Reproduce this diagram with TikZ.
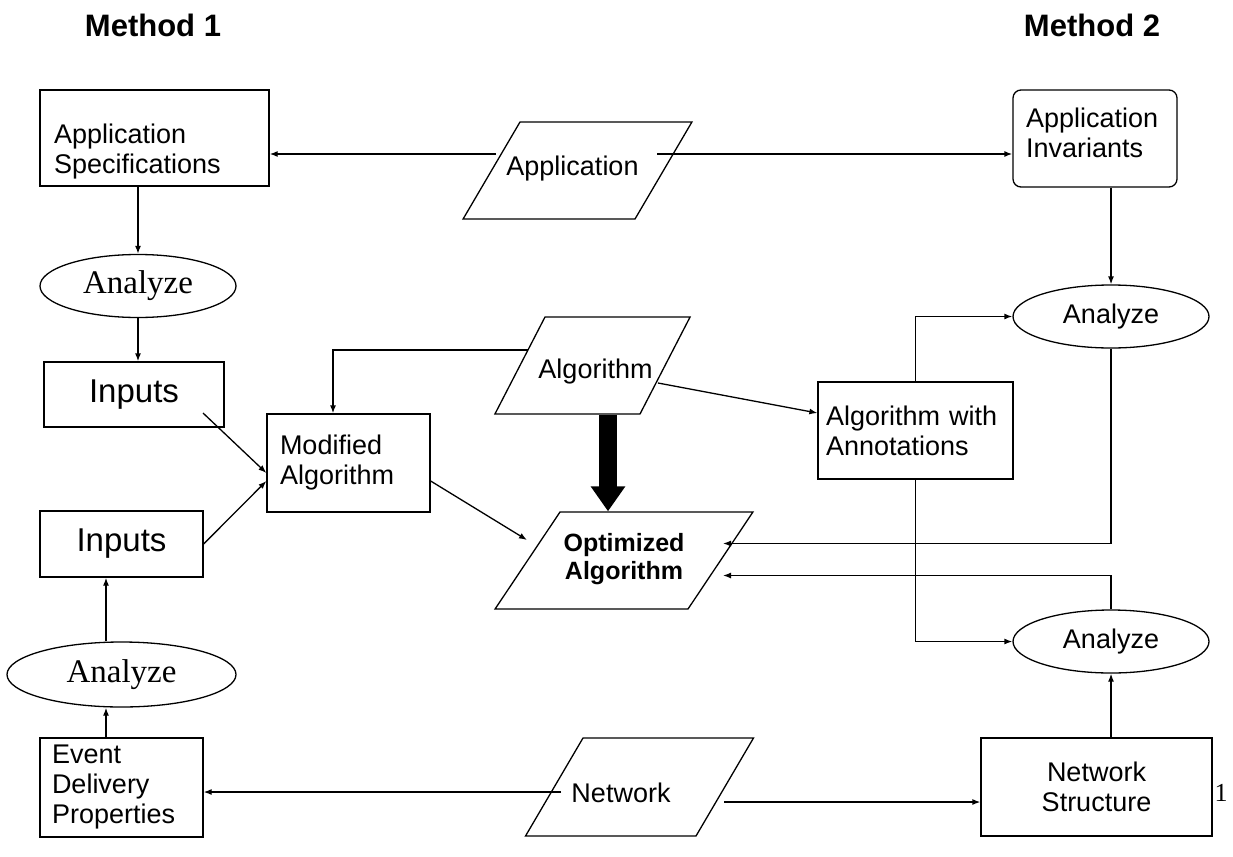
\documentclass[tikz,border=0pt]{standalone}
\usepackage{fontspec}
\setmainfont{Liberation Sans}
\newfontfamily\timesfont{Liberation Serif}
\usetikzlibrary{positioning,shapes.geometric,arrows.meta}

\begin{document}
\begin{tikzpicture}
    [x=1pt, y=-1pt, line width=1.3pt,
      every node/.style={font=\fontsize{27}{30}\selectfont, inner sep=2pt},
      box/.style={draw, rectangle, align=left, inner xsep=13pt},
      para/.style={draw, trapezium, trapezium left angle=60,
        trapezium right angle=120},
      ana/.style={draw, ellipse, minimum width=196pt, minimum height=63pt},
      serana/.style={ana, font=\timesfont\fontsize{33}{36}\selectfont},
      inbox/.style={draw, rectangle, font=\fontsize{33}{36}\selectfont},
      head/.style={font=\bfseries\fontsize{31}{34}\selectfont},
      arr/.style={-{Latex[length=8pt,width=6pt]}}]

    \useasboundingbox (0,0) rectangle (1233,856);

    \node (m1) [head] at (153,25) {Method 1};
    \node (m2) [head] at (1092,25) {Method 2};

    \node (spec) [box, inner xsep=14pt, text width=201pt, minimum height=96pt]
      at (154.5,138)
    {\rule{0pt}{47pt}Application\\
      Specifications
    };
    \node (app) [para, trapezium left angle=59.6, trapezium right angle=120.4,
      inner xsep=57.5pt, inner ysep=33pt, text height=20pt, text depth=11pt]
      at (577.5,170.5) {\makebox[0pt]{Application\hspace*{10pt}}};
    \node (inv) [box, rounded corners=8pt, text width=138pt, minimum height=97pt]
      at (1095,138.5)
    {Application\\
      Invariants\rule[-12pt]{0pt}{0pt}
    };

    \node (an1) [serana] at (138,286) {Analyze};
    \node (inA) [inbox, minimum width=180pt, minimum height=65pt] at (134,394.5) {Inputs};
    \node (inB) [inbox, minimum width=163pt, minimum height=66pt] at (121.5,544) {Inputs};
    \node (an2) [serana, minimum width=229pt, minimum height=65pt] at (121.5,674.5) {Analyze};
    \node (edp) [box, inner xsep=12pt, text width=139pt, minimum height=99pt]
      at (121.5,787.5)
    {Event\\
      Delivery\\
      Properties
    };

    \node (mod) [box, text width=137pt, minimum height=98pt] at (348.5,463)
    {Modified\\
      Algorithm
    };
    \node (alg) [para, trapezium left angle=62.7, trapezium right angle=117.3,
      inner xsep=47.5pt, inner ysep=35.5pt, text height=26pt, text depth=0pt]
      at (592.5,365.5) {\makebox[0pt]{\hspace*{6pt}Algorithm}};
    \node (opt) [para, trapezium left angle=56.2, trapezium right angle=123.8,
      inner xsep=64pt, inner ysep=30pt, text height=37pt, text depth=0pt,
      font=\bfseries\fontsize{25}{27.5}\selectfont]
      at (624,560.5)
    {\makebox[0pt]{\begin{tabular}[b]{@{}c@{}}
      Optimized\\
      Algorithm
    \end{tabular}}};
    \node (ann) [box, inner xsep=8pt, text width=179pt, minimum height=97pt]
      at (915.5,430.5)
    {Algorithm with\\
      Annotations
    };

    \node (an3) [ana] at (1111,316.5) {Analyze};
    \node (an4) [ana] at (1111,641.5) {Analyze};

    \node (net) [para, trapezium left angle=59.6, trapezium right angle=120.4,
      inner xsep=56.5pt, inner ysep=34pt, text height=30pt, text depth=0pt]
      at (639.5,787) {\makebox[0pt]{Network\hspace*{37pt}}};
    \node (ns) [box, align=center, text width=205pt, minimum height=98pt]
      at (1096.5,787)
    {Network\\
      Structure
    };
    \node (pg) [font=\timesfont\fontsize{26}{28}\selectfont] at (1221,793) {1};

    \draw[arr] ([xshift=-81.5pt,yshift=16.5pt]app.center) -- ([yshift=-16pt]spec.east);
    \draw[arr] ([xshift=79.5pt,yshift=16.5pt]app.center) -- ([yshift=-15.5pt]inv.west);
    \draw[arr] (an3.north |- inv.south) -- (an3.north);
    \draw[arr] (an1.north |- spec.south) -- (an1.north);
    \draw[arr] (an1.south) -- (an1.south |- inA.north);
    \draw[arr] ([xshift=69pt,yshift=-18.5pt]inA.center) -- ([yshift=-10pt]mod.west);
    \draw[arr] (inB.east) -- ([yshift=-18pt]mod.west);
    \draw[arr] ([xshift=-64.5pt,yshift=15.5pt]alg.center) -| ([xshift=-15.5pt]mod.north);
    \draw[line width=18pt, -{Triangle[length=25pt,width=33pt]}]
      ([xshift=15.5pt]alg.south) -- ([xshift=15.5pt]alg.south |- opt.north);
    \draw[arr] ([xshift=65.5pt,yshift=-17.5pt]alg.center) -- ([yshift=17.5pt]ann.west);
    \draw[arr] ([yshift=-18pt]mod.east) -- ([xshift=-97pt,yshift=20.5pt]opt.center);
    \draw[arr] (ann.north) |- (an3.west);
    \draw[arr] (ann.south) |- (an4.west);
    \draw[arr] (an3.south) |- ([xshift=99pt,yshift=17pt]opt.center);
    \draw[arr] (an4.north) |- ([xshift=99pt,yshift=-15pt]opt.center);
    \draw[arr] (an4.south |- ns.north) -- (an4.south);
    \draw[arr] ([xshift=-78.5pt,yshift=-5pt]net.center) -- ([yshift=-4.5pt]edp.east);
    \draw[arr] ([xshift=84.5pt,yshift=-15pt]net.center) -- ([yshift=-15pt]ns.west);
    \draw[arr] ([xshift=-15.5pt]edp.north) -- ([xshift=-15.5pt]edp.north |- an2.south);
    \draw[arr] ([xshift=-15.5pt]an2.north) -- ([xshift=-15.5pt]an2.north |- inB.south);
  \end{tikzpicture}
\end{document}
